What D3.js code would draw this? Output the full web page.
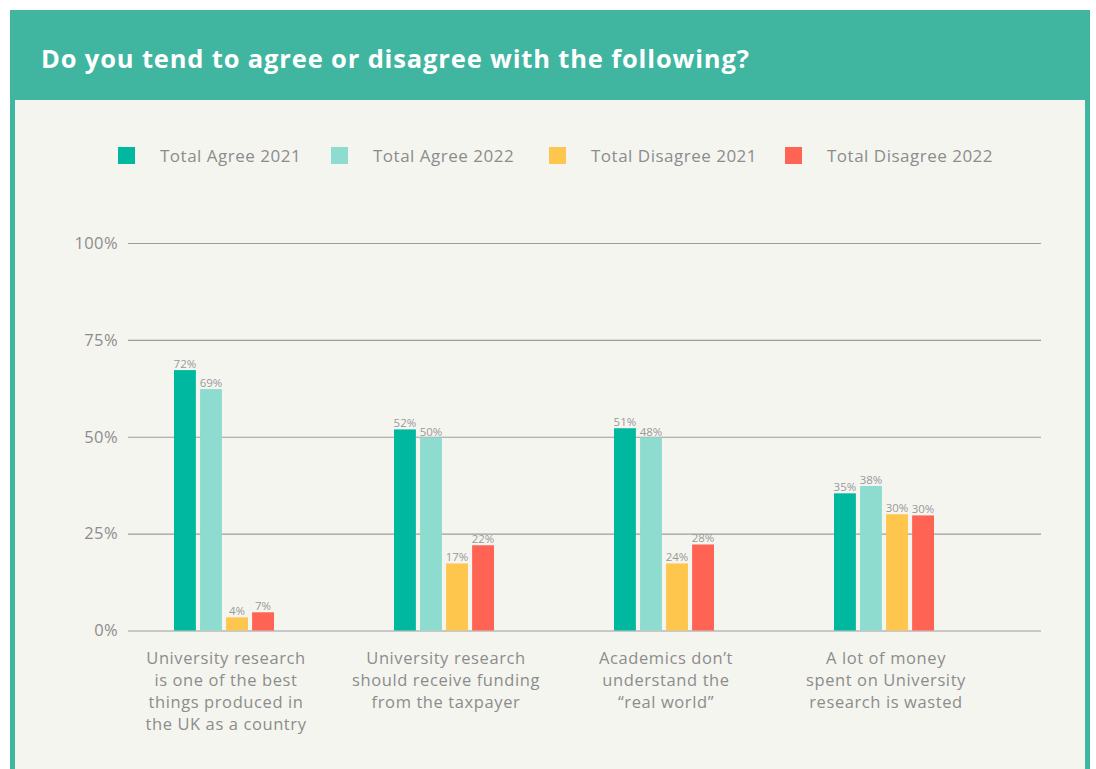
<!DOCTYPE html>
<html><head><meta charset="utf-8">
<script src="https://cdn.jsdelivr.net/npm/d3@7"></script>
<style>
html,body{margin:0;padding:0;background:#fff;}
svg{display:block;}
text{font-family:"Open Sans", Lato, sans-serif;}
</style></head>
<body>
<svg id="chart" width="1096" height="769"></svg>
<script>
const title = "Do you tend to agree or disagree with the following?";
const categories = [
  ["University research","is one of the best","things produced in","the UK as a country"],
  ["University research","should receive funding","from the taxpayer"],
  ["Academics don\u2019t","understand the","\u201creal world\u201d"],
  ["A lot of money","spent on University","research is wasted"]
];
const seriesNames = ["Total Agree 2021","Total Agree 2022","Total Disagree 2021","Total Disagree 2022"];
const seriesColors = ["#00b8a0","#8ddccf","#ffc64e","#ff6353"];
// bar heights as drawn in the picture
const agree2021 = [67.2, 51.9, 52.2, 35.4];
const agree2022 = [62.3, 49.8, 49.8, 37.3];
const disagree2021 = [3.4, 17.3, 17.3, 30.0];
const disagree2022 = [4.7, 22.0, 22.2, 29.7];
// value labels as printed in the picture
const agree2021Labels = ["72%","52%","51%","35%"];
const agree2022Labels = ["69%","50%","48%","38%"];
const disagree2021Labels = ["4%","17%","24%","30%"];
const disagree2022Labels = ["7%","22%","28%","30%"];
const yTicks = [0,25,50,75,100];
const yTickLabels = ["0%","25%","50%","75%","100%"];

const series = [agree2021, agree2022, disagree2021, disagree2022];
const seriesLabels = [agree2021Labels, agree2022Labels, disagree2021Labels, disagree2022Labels];

const svg = d3.select("#chart");
// frame
svg.append("rect").attr("x",10).attr("y",10).attr("width",1080).attr("height",770).attr("fill","#40b6a1");
svg.append("rect").attr("x",15).attr("y",100).attr("width",1070).attr("height",680).attr("fill","#f5f5f0");
svg.append("text").attr("x",41).attr("y",68).text(title)
  .attr("fill","#fff").attr("font-size",25.5).attr("font-weight",700).attr("letter-spacing",0.85);

// legend
const legendX = [118,331,549,785];
seriesNames.forEach((n,i)=>{
  const g = svg.append("g").attr("transform",`translate(${legendX[i]},147)`);
  g.append("rect").attr("width",17).attr("height",17).attr("fill",seriesColors[i]);
  g.append("text").attr("x",42).attr("y",15).text(n).attr("fill","#8c8c8c")
    .attr("font-size",17).attr("letter-spacing",0.5);
});

const y = d3.scaleLinear().domain([0,100]).range([630.5,243]);
const xLeft = 128, xRight = 1041;

// grid + y labels
const yAxis = d3.axisLeft(y).tickValues(yTicks).tickFormat((d,i)=>yTickLabels[i]).tickSize(-(xRight-xLeft)).tickPadding(10);
const ga = svg.append("g").attr("transform",`translate(${xLeft},0)`).call(yAxis);
ga.select(".domain").remove();
ga.selectAll(".tick line").attr("stroke","#9c9c9c").attr("stroke-width",1.2);
ga.selectAll(".tick text").attr("fill","#8c8c8c").attr("font-size",16.5)
  .attr("letter-spacing",0.4).attr("font-family","'Open Sans', sans-serif");

const x0 = d3.scaleBand().domain(d3.range(categories.length)).range([114,994]);
const x1 = d3.scaleBand().domain(d3.range(series.length)).range([0,100]).paddingInner(0.16);
const cw = x0.bandwidth();

const groups = svg.append("g").selectAll("g").data(categories).join("g")
  .attr("transform",(d,i)=>`translate(${x0(i)+cw/2-50},0)`);

groups.each(function(cat,ci){
  const g = d3.select(this);
  series.forEach((s,si)=>{
    g.append("rect").attr("x",x1(si)).attr("width",x1.bandwidth())
      .attr("y",y(s[ci])).attr("height",y(0)-y(s[ci])).attr("fill",seriesColors[si]);
    g.append("text").attr("x",x1(si)+x1.bandwidth()/2).attr("y",y(s[ci])-2)
      .attr("text-anchor","middle").attr("fill","#999").attr("font-size",11.5).text(seriesLabels[si][ci]);
  });
});

// category labels
svg.append("g").selectAll("text").data(categories).join("text")
  .attr("x",(d,i)=>x0(i)+cw/2+2).attr("y",664)
  .attr("text-anchor","middle").attr("fill","#8c8c8c").attr("font-size",16.5).attr("letter-spacing",0.6)
  .each(function(lines){
    const t = d3.select(this);
    lines.forEach((l,li)=>t.append("tspan").attr("x",t.attr("x")).attr("dy",li?22:0).text(l));
  });
</script>
</body></html>
